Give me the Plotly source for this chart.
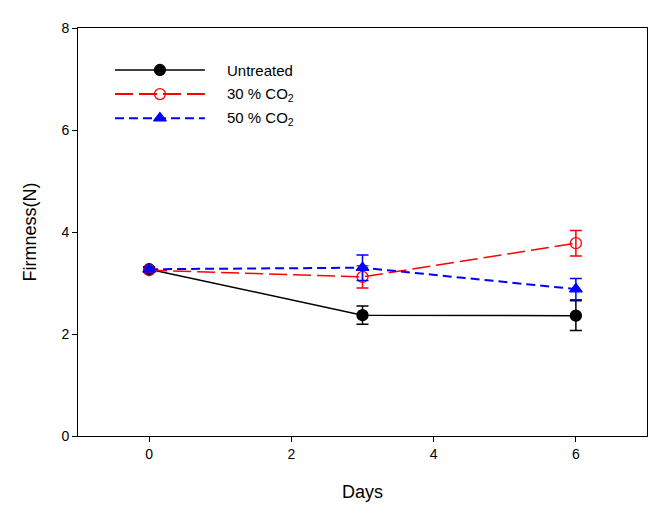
import plotly.graph_objects as go

days = [0, 3, 6]
untreated = [3.27, 2.37, 2.36]
untreated_err = [0.05, 0.18, 0.29]
co2_30 = [3.25, 3.12, 3.78]
co2_30_err = [0.04, 0.22, 0.25]
co2_50 = [3.27, 3.30, 2.88]
co2_50_err = [0.04, 0.25, 0.21]

x_ticks = [0, 2, 4, 6]
y_ticks = [0, 2, 4, 6, 8]

names = ["Untreated", "30 % CO<sub>2</sub>", "50 % CO<sub>2</sub>"]
colors = ["black", "red", "blue"]
dashes = ["solid", "18px,6px", "9px,5px"]
symbols = ["circle", "circle-open", "triangle-up"]

fig = go.Figure()

series = [(untreated, untreated_err, 0), (co2_30, co2_30_err, 1), (co2_50, co2_50_err, 2)]
for vals, errs, i in series:
    fig.add_trace(go.Scatter(
        x=days, y=vals, mode="lines+markers", name=names[i],
        line=dict(color=colors[i], width=1.5 if i < 2 else 2, dash=dashes[i]),
        marker=dict(color=colors[i], size=11, symbol=symbols[i],
                    line=dict(color=colors[i], width=1.3)),
        error_y=dict(type="data", array=errs, color=colors[i], thickness=1.5, width=6),
        showlegend=False, cliponaxis=False,
    ))

# manual legend in paper/overlay coordinates
leg_y = [0.897, 0.838, 0.779]
for i in range(3):
    fig.add_shape(type="line", xref="paper", yref="paper",
                  x0=0.065, x1=0.223, y0=leg_y[i], y1=leg_y[i],
                  line=dict(color=colors[i], width=2 if i != 0 else 1.5, dash=dashes[i]))
    fig.add_annotation(xref="paper", yref="paper", x=0.258, y=leg_y[i],
                       text=names[i], showarrow=False, xanchor="left", yanchor="middle",
                       font=dict(family="Liberation Sans, Arial", size=15, color="black"))
fig.add_trace(go.Scatter(
    x=[0.144] * 3, y=leg_y, mode="markers", xaxis="x2", yaxis="y2",
    marker=dict(color=colors, size=11, symbol=symbols, line=dict(color=colors, width=1.3)),
    showlegend=False, hoverinfo="skip",
))

fig.update_layout(
    width=672, height=513,
    margin=dict(l=70, r=33, t=20, b=85),
    plot_bgcolor="white", paper_bgcolor="white",
    font=dict(family="Liberation Sans, Arial", size=14, color="black"),
    xaxis=dict(range=[-1, 7], tickvals=x_ticks, showgrid=False, zeroline=False,
               showline=True, linecolor="black", linewidth=1, mirror=True,
               ticks="outside", ticklen=5, tickcolor="black",
               title=dict(text="Days", font=dict(size=18), standoff=24)),
    yaxis=dict(range=[0, 8], tickvals=y_ticks, showgrid=False, zeroline=False,
               showline=True, linecolor="black", linewidth=1, mirror=True,
               ticks="outside", ticklen=5, tickcolor="black",
               title=dict(text="Firmness(N)", font=dict(size=18), standoff=20)),
    xaxis2=dict(range=[0, 1], overlaying="x", visible=False, domain=[0, 1]),
    yaxis2=dict(range=[0, 1], overlaying="y", visible=False),
)

fig.write_html("out.html")
